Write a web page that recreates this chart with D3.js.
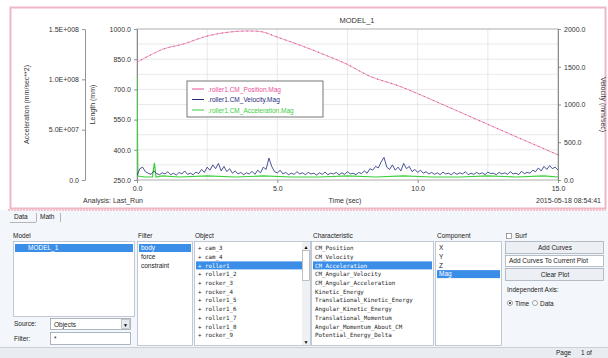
<!DOCTYPE html>
<html>
<head>
<meta charset="utf-8">
<script src="https://cdn.jsdelivr.net/npm/d3@7"></script>
<style>
  body { margin: 0; background: #fff; }
  svg { display: block; font-family: "Liberation Sans", Arial, sans-serif; }
  .ax path, .ax line { stroke: #777; stroke-width: 0.8; }
  .ax text { fill: #333; font-size: 7px; }
  .lbl { fill: #333; font-size: 7px; }
  .ui { fill: #222; font-size: 6.5px; }
  .mono { font-family: "DejaVu Sans Mono", "Liberation Mono", monospace; font-size: 5.8px; fill: #222; }
</style>
</head>
<body>
<svg id="chart" width="608" height="358"></svg>
<script>
// ---- data ----
const posTime = [0, 0.93, 1.64, 2.5, 3.31, 4.03, 4.49, 4.99, 5.7, 6.63, 7.48, 8.3, 9.37, 10.97, 12.93, 15];
const posMag = [835, 900, 925, 965, 985, 990, 985, 960, 925, 875, 825, 765, 715, 620, 500, 375];

const velStep = 0.1;
const velMag = [
  60, 150, 170, 110, 90, 75, 120, 85, 70, 95,
  80, 110, 70, 90, 65, 100, 80, 120, 75, 90,
  70, 105, 85, 140, 100, 170, 130, 200, 150, 220,
  120, 180, 110, 150, 90, 120, 80, 100, 70, 95,
  80, 115, 75, 130, 95, 170, 140, 290, 180, 110,
  95, 130, 80, 100, 70, 90, 75, 110, 80, 95,
  70, 100, 80, 90, 65, 95, 75, 105, 70, 90,
  80, 100, 70, 95, 75, 110, 80, 90, 70, 100,
  85, 120, 90, 150, 130, 180, 160, 240, 300, 170,
  140, 200, 130, 170, 120, 220, 150, 180, 110, 140,
  100, 130, 90, 110, 80, 100, 75, 95, 70, 105,
  80, 90, 70, 100, 75, 95, 80, 110, 70, 90,
  75, 100, 80, 95, 70, 105, 85, 90, 70, 100,
  80, 95, 75, 110, 80, 90, 70, 115, 85, 100,
  90, 130, 110, 160, 120, 180, 140, 190, 150, 170,
  130
];

const accTime = [0, 0.03, 0.3, 0.55, 0.62, 0.68, 0.9, 1.5, 2.5, 3.5, 4.5, 5.5, 6.5, 7.5, 8.5, 9.5, 10.5, 11.5, 12.5, 13.5, 14.5, 15];
const accMag = [1.02e8, 4e6, 3e6, 3e6, 1.7e7, 3e6, 4e6, 3e6, 4e6, 3e6, 4e6, 3e6, 3e6, 4e6, 3e6, 4e6, 3e6, 3e6, 4e6, 3e6, 4e6, 3e6];

const timeTicks = [0, 5, 10, 15];
const timeGrid = [2.5, 5, 7.5, 10, 12.5];
const lengthTicks = [250, 400, 550, 700, 850, 1000];
const accTicks = [0, 5e7, 1e8, 1.5e8];
const velTicks = [0, 500, 1000, 1500, 2000];

const seriesNames = ['.roller1.CM_Position.Mag', '.roller1.CM_Velocity.Mag', '.roller1.CM_Acceleration.Mag'];
const seriesColors = ['#e8509a', '#1f2a7a', '#3ccf3c'];

const modelItems = ['MODEL_1'];
const filterItems = ['body', 'force', 'constraint'];
const objectItems = ['+ cam_3', '+ cam_4', '+ roller1', '+ roller1_2', '+ rocker_3', '+ rocker_4',
  '+ roller1_5', '+ roller1_6', '+ roller1_7', '+ roller1_8', '+ rocker_9'];
const charItems = ['CM_Position', 'CM_Velocity', 'CM_Acceleration', 'CM_Angular_Velocity',
  'CM_Angular_Acceleration', 'Kinetic_Energy', 'Translational_Kinetic_Energy',
  'Angular_Kinetic_Energy', 'Translational_Momentum', 'Angular_Momentum_About_CM',
  'Potential_Energy_Delta'];
const compItems = ['X', 'Y', 'Z', 'Mag'];

// ---- layout ----
const svg = d3.select('#chart');
const plot = {left: 137, right: 558, top: 29, bottom: 180};

const x = d3.scaleLinear().domain([0, 15]).range([plot.left, plot.right]);
const yLen = d3.scaleLinear().domain([250, 1000]).range([plot.bottom, plot.top]);
const yAcc = d3.scaleLinear().domain([0, 1.5e8]).range([plot.bottom, plot.top]);
const yVel = d3.scaleLinear().domain([0, 2000]).range([plot.bottom, plot.top]);

const expFmt = (v) => {
  if (v === 0) return '0.0';
  const e = Math.floor(Math.log10(v));
  return (v / Math.pow(10, e)).toFixed(1) + 'E+' + String(e).padStart(3, '0');
};

/* PLOT WINDOW */
svg.append('rect').attr('width', 608).attr('height', 358).attr('fill', '#fff');
svg.append('rect').attr('x', 10.5).attr('y', 7.5).attr('width', 595).attr('height', 201)
  .attr('fill', '#fff').attr('stroke', '#efb6c6').attr('stroke-width', 2);

svg.append('text').attr('class', 'lbl').attr('x', 357).attr('y', 23)
  .attr('text-anchor', 'middle').style('font-size', '7.5px').text('MODEL_1');

// grid
const grid = svg.append('g').attr('stroke', '#dadada').attr('stroke-width', 0.6);
grid.selectAll('line.h').data(d3.range(250, 1001, 75)).enter().append('line')
  .attr('x1', plot.left).attr('x2', plot.right)
  .attr('y1', d => yLen(d)).attr('y2', d => yLen(d));
grid.selectAll('line.v').data(timeGrid).enter().append('line')
  .attr('y1', plot.top).attr('y2', plot.bottom)
  .attr('x1', d => x(d)).attr('x2', d => x(d));

svg.append('rect').attr('x', plot.left).attr('y', plot.top)
  .attr('width', plot.right - plot.left).attr('height', plot.bottom - plot.top)
  .attr('fill', 'none').attr('stroke', '#aaa').attr('stroke-width', 0.8);

// axes
svg.append('g').attr('class', 'ax').attr('transform', `translate(${plot.left},0)`)
  .call(d3.axisLeft(yLen).tickValues(lengthTicks).tickSize(3).tickSizeOuter(0).tickFormat(d3.format('.1f')));
svg.append('g').attr('class', 'ax').attr('transform', 'translate(85,0)')
  .call(d3.axisLeft(yAcc).tickValues(accTicks).tickSize(3).tickSizeOuter(0).tickFormat(expFmt));
svg.append('g').attr('class', 'ax').attr('transform', `translate(${plot.right},0)`)
  .call(d3.axisRight(yVel).tickValues(velTicks).tickSize(3).tickSizeOuter(0).tickFormat(d3.format('.1f')));
svg.append('g').attr('class', 'ax').attr('transform', `translate(0,${plot.bottom})`)
  .call(d3.axisBottom(x).tickValues(timeTicks).tickSize(3).tickSizeOuter(0).tickFormat(d3.format('.1f')))
  .call(g => g.select('.domain').remove());

// axis titles
const midY = (plot.top + plot.bottom) / 2;
svg.append('text').attr('class', 'lbl').attr('transform', `translate(29,${midY}) rotate(-90)`)
  .attr('text-anchor', 'middle').text('Acceleration (mm/sec**2)');
svg.append('text').attr('class', 'lbl').attr('transform', `translate(95,${midY}) rotate(-90)`)
  .attr('text-anchor', 'middle').text('Length (mm)');
svg.append('text').attr('class', 'lbl').attr('transform', `translate(601,${midY}) rotate(90)`)
  .attr('text-anchor', 'middle').text('Velocity (mm/sec)');
svg.append('text').attr('class', 'lbl').attr('x', 345).attr('y', 203).attr('text-anchor', 'middle').text('Time (sec)');
svg.append('text').attr('class', 'lbl').attr('x', 83).attr('y', 203).text('Analysis:  Last_Run');
svg.append('text').attr('class', 'lbl').attr('x', 601).attr('y', 203).attr('text-anchor', 'end').text('2015-05-18 08:54:41');

// curves
svg.append('clipPath').attr('id', 'clip').append('rect')
  .attr('x', plot.left).attr('y', plot.top - 1)
  .attr('width', plot.right - plot.left).attr('height', plot.bottom - plot.top + 1);
const curves = svg.append('g').attr('clip-path', 'url(#clip)').attr('fill', 'none');

const posData = posTime.map((t, i) => ({t, v: posMag[i]}));
const velData = velMag.map((v, i) => ({t: i * velStep, v}));
const accData = accTime.map((t, i) => ({t, v: accMag[i]}));

const posLine = d3.line().x(d => x(d.t)).y(d => yLen(d.v)).curve(d3.curveCatmullRom);
curves.append('path').attr('d', posLine(posData)).attr('stroke', '#f29ac4').attr('stroke-width', 1);
curves.append('path').attr('d', posLine(posData)).attr('stroke', '#c8407f')
  .attr('stroke-width', 1).attr('stroke-dasharray', '1,4');

curves.append('path').attr('d', d3.line().x(d => x(d.t)).y(d => yAcc(d.v))(accData))
  .attr('stroke', seriesColors[2]).attr('stroke-width', 1.2);
curves.append('path').attr('d', d3.line().x(d => x(d.t)).y(d => yVel(d.v))(velData))
  .attr('stroke', seriesColors[1]).attr('stroke-width', 0.8);

// legend
const leg = svg.append('g').attr('transform', 'translate(187,81)');
leg.append('rect').attr('width', 136).attr('height', 36).attr('fill', '#fff')
  .attr('stroke', '#555').attr('stroke-width', 0.8);
const legRow = leg.selectAll('g.row').data(seriesNames).enter().append('g')
  .attr('transform', (d, i) => `translate(0,${8 + i * 10.5})`);
legRow.append('line').attr('x1', 5).attr('x2', 17)
  .attr('stroke', (d, i) => seriesColors[i]).attr('stroke-width', 1);
legRow.append('text').attr('x', 21).attr('y', 2.5).style('font-size', '6.5px')
  .attr('fill', (d, i) => seriesColors[i]).text(d => d);

/* DATA BROWSER PANEL */
svg.append('rect').attr('x', 0).attr('y', 210).attr('width', 608).attr('height', 148).attr('fill', '#f3f6fa');
svg.append('line').attr('x1', 8).attr('x2', 606).attr('y1', 210).attr('y2', 210)
  .attr('stroke', '#f2c4d0').attr('stroke-width', 2).attr('stroke-dasharray', '2,1');

// tabs
svg.append('text').attr('class', 'ui').attr('x', 14).attr('y', 219).text('Data');
svg.append('text').attr('class', 'ui').attr('x', 40).attr('y', 219).text('Math');
svg.append('path').attr('d', 'M36.5,213V222M60.5,213V222M10,222.5H36').attr('stroke', '#999').attr('fill', 'none').attr('stroke-width', 0.7);

const heads = [['Model', 13], ['Filter', 138], ['Object', 195], ['Characteristic', 313], ['Component', 437], ['Surf', 515]];
svg.selectAll('text.head').data(heads).enter().append('text').attr('class', 'ui')
  .attr('x', d => d[1]).attr('y', 238).text(d => d[0]);
svg.append('rect').attr('x', 506.5).attr('y', 233.5).attr('width', 5).attr('height', 5)
  .attr('fill', '#fff').attr('stroke', '#666').attr('stroke-width', 0.6);

const rowY = (i) => 248 + i * 8.7;
function listBox(x0, w, h, items, sel, cls) {
  const g = svg.append('g');
  g.append('rect').attr('x', x0 + 0.5).attr('y', 241.5).attr('width', w).attr('height', h)
    .attr('fill', '#fff').attr('stroke', '#a9b4c2').attr('stroke-width', 0.7);
  g.append('rect').attr('x', x0 + 2).attr('y', rowY(sel) - 4).attr('width', w - 3).attr('height', 8)
    .attr('fill', '#3a8ee8');
  g.selectAll('text').data(items).enter().append('text').attr('class', cls)
    .attr('x', x0 + 4).attr('y', (d, i) => rowY(i) + 2.2)
    .style('fill', (d, i) => i === sel ? '#fff' : '#222').text(d => d);
  return g;
}
listBox(13, 121, 75, modelItems, 0, 'ui').select('text').attr('x', 28);
listBox(137, 55, 104, filterItems, 0, 'ui');
const objBox = listBox(194, 116, 104, objectItems, 2, 'mono');
listBox(311, 122, 104, charItems, 2, 'mono');
listBox(435, 66, 104, compItems, 3, 'ui');

// object list scroll bar
objBox.append('rect').attr('x', 302).attr('y', 242).attr('width', 8).attr('height', 103).attr('fill', '#eef0f3');
objBox.append('rect').attr('x', 302.5).attr('y', 250.5).attr('width', 7).attr('height', 30)
  .attr('fill', '#fff').attr('stroke', '#999').attr('stroke-width', 0.6);
objBox.append('text').attr('x', 306).attr('y', 248.5).attr('text-anchor', 'middle').style('font-size', '5px').text('▲');
objBox.append('text').attr('x', 306).attr('y', 344).attr('text-anchor', 'middle').style('font-size', '5px').text('▼');

// source / filter controls
svg.append('text').attr('class', 'ui').attr('x', 14).attr('y', 326).text('Source:');
svg.append('rect').attr('x', 50.5).attr('y', 318.5).attr('width', 80).attr('height', 11)
  .attr('fill', '#fff').attr('stroke', '#8c98a6').attr('stroke-width', 0.7);
svg.append('text').attr('class', 'ui').attr('x', 54).attr('y', 326.5).text('Objects');
svg.append('rect').attr('x', 121.5).attr('y', 319.5).attr('width', 8).attr('height', 9)
  .attr('fill', '#e6e9ee').attr('stroke', '#999').attr('stroke-width', 0.5);
svg.append('text').attr('x', 125.5).attr('y', 326.5).attr('text-anchor', 'middle').style('font-size', '5px').text('▼');
svg.append('text').attr('class', 'ui').attr('x', 14).attr('y', 341).text('Filter:');
svg.append('rect').attr('x', 50.5).attr('y', 332.5).attr('width', 80).attr('height', 12)
  .attr('fill', '#fff').attr('stroke', '#8c98a6').attr('stroke-width', 0.7);
svg.append('text').attr('class', 'ui').attr('x', 54).attr('y', 341).text('*');

// right side controls
const btn = (y, h, label, fill, anchor) => {
  svg.append('rect').attr('x', 505.5).attr('y', y + 0.5).attr('width', 98).attr('height', h)
    .attr('fill', fill).attr('stroke', '#9aa4b0').attr('stroke-width', 0.7);
  svg.append('text').attr('class', 'ui').attr('x', anchor === 'start' ? 509 : 555)
    .attr('y', y + h / 2 + 2.8).attr('text-anchor', anchor).text(label);
};
btn(241, 12, 'Add Curves', '#eceff3', 'middle');
btn(255, 11, 'Add Curves To Current Plot', '#fff', 'start');
btn(268, 12, 'Clear Plot', '#eceff3', 'middle');
svg.append('text').attr('class', 'ui').attr('x', 507).attr('y', 292).text('Independent Axis:');
svg.append('circle').attr('cx', 510).attr('cy', 303).attr('r', 2.5).attr('fill', '#fff').attr('stroke', '#666').attr('stroke-width', 0.6);
svg.append('circle').attr('cx', 510).attr('cy', 303).attr('r', 1.1).attr('fill', '#333');
svg.append('text').attr('class', 'ui').attr('x', 515).attr('y', 305.5).text('Time');
svg.append('circle').attr('cx', 535).attr('cy', 303).attr('r', 2.5).attr('fill', '#fff').attr('stroke', '#666').attr('stroke-width', 0.6);
svg.append('text').attr('class', 'ui').attr('x', 540).attr('y', 305.5).text('Data');

// status bar
svg.append('rect').attr('x', 0).attr('y', 347).attr('width', 608).attr('height', 11).attr('fill', '#e9edf2');
svg.append('line').attr('x1', 0).attr('x2', 608).attr('y1', 347.5).attr('y2', 347.5).attr('stroke', '#c9d0d8');
svg.append('text').attr('class', 'ui').attr('x', 556).attr('y', 355).text('Page');
svg.append('text').attr('class', 'ui').attr('x', 581).attr('y', 355).text('1 of');
</script>
</body>
</html>
